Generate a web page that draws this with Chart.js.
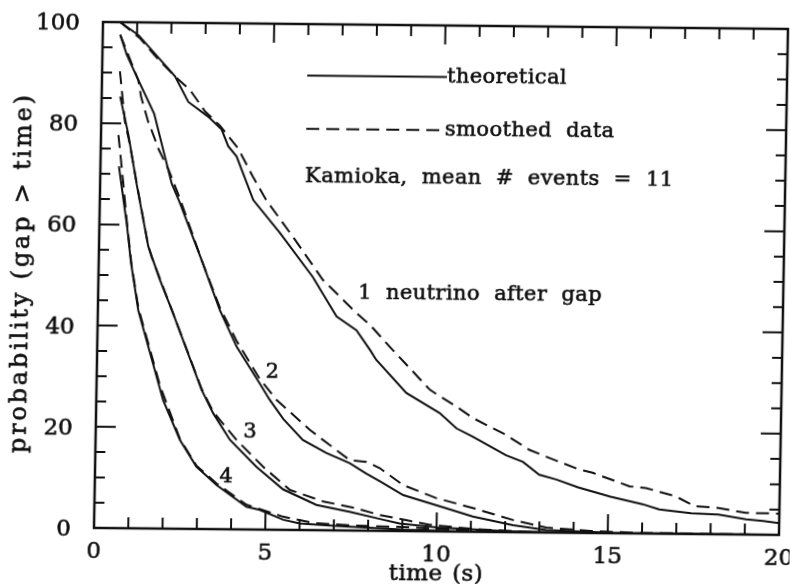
<!DOCTYPE html>
<html>
<head>
<meta charset="utf-8">
<script src="https://cdn.jsdelivr.net/npm/chart.js@4.4.0/dist/chart.umd.min.js"></script>
<style>
    html, body { margin: 0; padding: 0; background: #fff; }
    #wrap { width: 790px; height: 584px; position: relative; overflow: hidden; background: #fff; }
    /* the original is a slightly skewed scan */
    #myChart { position: absolute; left: 0; top: 0; transform-origin: 94px 528px; transform: matrix(1, 0.0102, -0.0178, 1, 0, 0); }
</style>
</head>
<body>
<div id="wrap"><canvas id="myChart" width="790" height="584"></canvas></div>
<script>
// time (s) and probability (%), one pair of arrays per curve
const t1Theo = [0.5, 1.04, 2.13, 2.53, 3.12, 3.52, 3.72, 3.97, 4.48, 5.27, 6.26, 6.97, 7.56, 7.96, 8.15, 9.05, 10.03, 10.53, 11.01, 11.99, 12.49, 12.97, 13.47, 14.11, 15.06, 16.0, 16.49, 17.42, 18.22, 19.03, 19.53, 20];
const p1Theo = [100, 97.5, 89.4, 84.4, 81.5, 79.0, 75.7, 73.7, 65.1, 58.7, 50.0, 42.3, 39.6, 35.8, 33.8, 27.3, 23.4, 20.4, 18.8, 15.2, 13.9, 11.4, 10.5, 9.0, 7.2, 5.8, 4.8, 4.1, 3.9, 3.0, 2.7, 2.3];
const t1Data = [0.5, 1.08, 1.54, 2.13, 2.58, 3.03, 3.46, 4.01, 4.45, 4.86, 5.65, 6.55, 7.55, 7.95, 8.54, 9.73, 9.96, 10.52, 11.0, 11.98, 12.67, 13.16, 14.1, 14.53, 15.61, 16.09, 16.97, 17.52, 18.22, 19.02, 20];
const p1Data = [100, 96.9, 93.4, 89.4, 86.7, 82.5, 79.8, 75.3, 69.8, 65.1, 58.0, 49.5, 43.0, 40.7, 36.4, 28.0, 27.0, 24.7, 22.5, 19.2, 16.3, 15.0, 12.6, 11.9, 9.3, 9.0, 7.4, 5.5, 5.2, 4.3, 4.2];

const t2Theo = [0.51, 0.71, 1.06, 1.54, 2.09, 2.34, 3.0, 3.56, 4.07, 4.77, 5.06, 5.47, 6.05, 6.74, 7.43, 7.92, 8.32, 9.01, 10.27, 11.05, 12.23, 13.2, 15, 20];
const p2Theo = [97.5, 93.6, 88.6, 82.0, 68.2, 64.4, 53.2, 43.3, 36.1, 28.8, 25.7, 21.9, 17.8, 15.3, 13.3, 11.3, 9.8, 7.1, 4.6, 3.0, 1.4, 0.5, 0.1, 0];
const t2Data = [0.51, 1.06, 1.15, 1.37, 1.47, 1.68, 1.98, 2.34, 3.0, 3.56, 4.06, 4.76, 5.26, 6.25, 7.43, 7.92, 8.31, 9.0, 9.97, 11.05, 12.23, 13.2, 14.5, 16, 20];
const p2Data = [97.5, 88.6, 85.3, 80.4, 78.8, 75.1, 71.1, 65.2, 53.2, 43.8, 37.3, 29.8, 25.7, 19.8, 13.9, 13.6, 12.4, 9.1, 6.6, 4.7, 2.4, 1.0, 0.4, 0.1, 0];

const t3Theo = [0.54, 0.80, 1.07, 1.44, 1.80, 2.16, 3.07, 3.42, 3.92, 4.71, 5.5, 6.48, 7.45, 8.44, 8.92, 10.0, 12, 14, 20];
const p3Theo = [85.3, 77.8, 67.9, 55.7, 49.1, 43.2, 27.5, 22.9, 17.7, 12.4, 8.0, 5.0, 3.7, 2.2, 1.5, 0.8, 0.2, 0, 0];
const t3Data = [0.52, 0.69, 0.85, 1.07, 1.43, 1.54, 2.16, 3.07, 3.42, 4.11, 4.91, 5.70, 6.68, 7.65, 8.35, 9.8, 11.2, 13, 20];
const p3Data = [90.3, 80.4, 75.8, 68.1, 56.1, 53.7, 43.2, 27.7, 23.2, 17.7, 12.4, 7.9, 5.7, 4.4, 3.1, 1.3, 0.5, 0, 0];

const t4Theo = [0.54, 0.64, 0.80, 0.94, 1.18, 1.95, 2.46, 2.96, 3.56, 4.44, 4.83, 5.52, 6.01, 7.03, 8.03, 9, 11, 20];
const p4Theo = [71.5, 67.1, 60.1, 52.6, 43.1, 25.4, 17.6, 12.3, 8.7, 4.5, 3.9, 2.0, 1.3, 0.9, 0.6, 0.3, 0, 0];
const t4Data = [0.51, 0.68, 0.80, 0.96, 1.18, 1.86, 2.46, 2.96, 3.56, 4.44, 5.51, 6.43, 7.53, 9.02, 10, 12, 20];
const p4Data = [77.7, 67.9, 60.6, 52.1, 43.6, 28.1, 17.8, 12.5, 9.0, 4.9, 2.6, 1.4, 1.0, 0.8, 0.5, 0, 0];

// axis ranges and tick steps
const xMax = 20, xMajor = 5, xMinor = 1;
const yMax = 100, yMajor = 20, yMinor = 5;

// text inside the frame, placed in data units: [text, time, probability, align]
const notes = [
    ['theoretical', 10.07, 89.8, 'left'],
    ['smoothed data', 10.04, 79.3, 'left'],
    ['Kamioka, mean # events = 11', 5.98, 69.8, 'left'],
    ['1 neutrino after gap', 7.59, 47.0, 'left'],
    ['2', 5.12, 31.2, 'center'],
    ['3', 4.5, 19.3, 'center'],
    ['4', 3.83, 10.3, 'center'],
];
const keyStart = 5.99, keyEnd = 10.07;
const xTitle = 'time (s)';
const yTitle = 'probability (gap > time)';

const ink = '#111';
const serif = 'DejaVu Serif';
const dash = [13, 7];

const pts = (ts, ps) => ts.map((t, i) => ({ x: t, y: ps[i] }));
const curve = (label, ts, ps, dashed) => ({
    label,
    data: pts(ts, ps),
    borderColor: ink,
    borderWidth: 2,
    borderDash: dashed ? dash : [],
    pointRadius: 0,
    tension: 0,
    fill: false,
});

const data = {
    datasets: [
        curve('1 theoretical', t1Theo, p1Theo, false),
        curve('1 smoothed data', t1Data, p1Data, true),
        curve('2 theoretical', t2Theo, p2Theo, false),
        curve('2 smoothed data', t2Data, p2Data, true),
        curve('3 theoretical', t3Theo, p3Theo, false),
        curve('3 smoothed data', t3Data, p3Data, true),
        curve('4 theoretical', t4Theo, p4Theo, false),
        curve('4 smoothed data', t4Data, p4Data, true),
    ],
};

// the scanned lettering is wider and a bit heavier than DejaVu Book:
// letters and words get extra room and a thin outline
const textWidth = (ctx, txt, word, letter) => {
    let w = 0;
    for (const ch of txt) w += ctx.measureText(ch).width + letter + (ch === ' ' ? word : 0);
    return w - letter;
};
const drawSpaced = (ctx, txt, x, y, word, letter) => {
    let cx = x;
    for (const ch of txt) {
        ctx.fillText(ch, cx, y);
        ctx.strokeText(ch, cx, y);
        cx += ctx.measureText(ch).width + letter + (ch === ' ' ? word : 0);
    }
};
const drawHeavy = (ctx, txt, x, y) => {
    ctx.fillText(txt, x, y);
    ctx.strokeText(txt, x, y);
};

// frame with inward ticks on all four sides, tick labels, key and text
const frame = {
    id: 'frame',
    afterDatasetsDraw(chart) {
        const { ctx, chartArea: a, scales: { x, y } } = chart;
        ctx.save();
        ctx.strokeStyle = ink;
        ctx.lineWidth = 2.5;
        ctx.strokeRect(a.left, a.top, a.right - a.left, a.bottom - a.top);

        ctx.lineWidth = 2;
        ctx.beginPath();
        for (let t = 0; t <= xMax; t += xMinor) {
            const px = x.getPixelForValue(t);
            const len = t % xMajor === 0 ? 19 : 11;
            ctx.moveTo(px, a.bottom); ctx.lineTo(px, a.bottom - len);
            ctx.moveTo(px, a.top); ctx.lineTo(px, a.top + len);
        }
        for (let p = 0; p <= yMax; p += yMinor) {
            const py = y.getPixelForValue(p);
            const len = p % yMajor === 0 ? 20 : 10;
            ctx.moveTo(a.left, py); ctx.lineTo(a.left + len, py);
            ctx.moveTo(a.right, py); ctx.lineTo(a.right - len, py);
        }
        ctx.stroke();

        // key
        const k0 = x.getPixelForValue(keyStart), k1 = x.getPixelForValue(keyEnd);
        ctx.beginPath();
        ctx.moveTo(k0, y.getPixelForValue(notes[0][2])); ctx.lineTo(k1, y.getPixelForValue(notes[0][2]));
        ctx.stroke();
        ctx.setLineDash(dash);
        ctx.beginPath();
        ctx.moveTo(k0, y.getPixelForValue(notes[1][2])); ctx.lineTo(k1, y.getPixelForValue(notes[1][2]));
        ctx.stroke();
        ctx.setLineDash([]);

        ctx.fillStyle = ink;
        ctx.lineWidth = 0.6;

        // tick labels from the scales' own ticks
        ctx.font = '23px "' + serif + '"';
        ctx.textBaseline = 'alphabetic';
        ctx.textAlign = 'center';
        x.ticks.forEach((tk) => drawHeavy(ctx, tk.label, x.getPixelForValue(tk.value), a.bottom + 30));
        ctx.textAlign = 'right';
        y.ticks.forEach((tk) => drawHeavy(ctx, tk.label, a.left - 23, y.getPixelForValue(tk.value) + 8));

        // axis titles
        ctx.font = '23px "' + serif + '"';
        ctx.textAlign = 'left';
        const xw = textWidth(ctx, xTitle, 2, 0.4);
        drawSpaced(ctx, xTitle, (a.left + a.right) / 2 - xw / 2, 577, 2, 0.4);

        ctx.textBaseline = 'middle';
        notes.forEach(([txt, t, p, align]) => {
            const px = x.getPixelForValue(t), py = y.getPixelForValue(p);
            ctx.font = '21px "' + serif + '"';
            if (align === 'center') {
                ctx.textAlign = 'center';
                drawHeavy(ctx, txt, px, py);
            } else {
                ctx.textAlign = 'left';
                drawSpaced(ctx, txt, px, py, 7, 0.4);
            }
        });

        // rotated y title
        ctx.font = '24px "' + serif + '"';
        ctx.textAlign = 'left';
        const yw = textWidth(ctx, yTitle, 0, 2.8);
        ctx.translate(18, (a.top + a.bottom) / 2);
        ctx.rotate(-Math.PI / 2);
        drawSpaced(ctx, yTitle, -yw / 2, 0, 0, 2.8);
        ctx.restore();
    },
};

const config = {
    type: 'line',
    data,
    options: {
        responsive: false,
        animation: false,
        devicePixelRatio: 1,
        events: [],
        layout: { padding: { left: 0, right: 11, top: 22, bottom: 0 } },
        plugins: { legend: { display: false }, tooltip: { enabled: false } },
        scales: {
            x: {
                type: 'linear',
                min: 0,
                max: xMax,
                grid: { display: false },
                border: { display: false },
                ticks: { stepSize: xMajor, display: false },
                afterFit: (s) => { s.height = 56; s.paddingLeft = 0; s.paddingRight = 0; },
            },
            y: {
                min: 0,
                max: yMax,
                grid: { display: false },
                border: { display: false },
                ticks: { stepSize: yMajor, display: false },
                afterFit: (s) => { s.width = 94; s.paddingTop = 0; s.paddingBottom = 0; },
            },
        },
    },
    plugins: [frame],
};

const myChart = new Chart(document.getElementById('myChart'), config);
</script>
</body>
</html>
